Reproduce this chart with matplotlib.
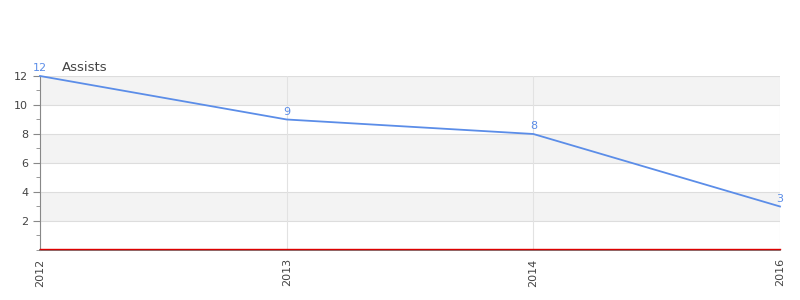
import matplotlib
matplotlib.use("Agg")
import matplotlib.pyplot as plt
from matplotlib.ticker import MultipleLocator

years = ["2012", "2013", "2014", "2016"]
assists = [12, 9, 8, 3]

line_color = "#5b8de8"
text_color = "#444444"

fig = plt.figure(figsize=(8, 3), dpi=100)
ax = fig.add_axes([0.05, 0.1667, 0.925, 0.58])

x = list(range(len(years)))

# alternating bands
for lo in (2, 6, 10):
    ax.axhspan(lo, lo + 2, color="#f3f3f3", zorder=0, lw=0)
for y in (2, 4, 6, 8, 10, 12):
    ax.axhline(y, color="#dddddd", lw=0.8, zorder=1)
for xi in x:
    ax.axvline(xi, color="#e2e2e2", lw=0.8, zorder=1)

ax.plot(x, assists, color=line_color, lw=1.3, zorder=3, clip_on=False)
for xi, v in zip(x, assists):
    ax.annotate(str(v), (xi, v), xytext=(0, 2), textcoords="offset points",
                ha="center", va="bottom", color=line_color, fontsize=8)

ax.set_xlim(0, len(years) - 1)
ax.set_ylim(0, 12)
ax.set_xticks(x)
ax.set_xticklabels(years, rotation=90, color=text_color, fontsize=8)
ax.yaxis.set_major_locator(MultipleLocator(2))
ax.yaxis.set_minor_locator(MultipleLocator(1))
ax.set_yticks([2, 4, 6, 8, 10, 12])
ax.tick_params(axis="y", colors=text_color, labelsize=8, length=5, color="#888888")
ax.tick_params(axis="y", which="minor", length=3, color="#888888")
ax.tick_params(axis="x", length=0, pad=6)

for s in ("top", "right"):
    ax.spines[s].set_visible(False)
ax.spines["left"].set_color("#888888")
ax.spines["bottom"].set_color("#666666")
ax.spines["bottom"].set_linewidth(1.2)
ax.spines["bottom"].set_zorder(2)

# red baseline sitting just above the axis line
ax.axhline(0.07, color="#dd0000", lw=1.0, zorder=5, clip_on=False)

ax.text(0.03, 1.01, "Assists", transform=ax.transAxes, color=text_color,
        fontsize=9.5, ha="left", va="bottom")

fig.savefig("out.png", dpi=100)
